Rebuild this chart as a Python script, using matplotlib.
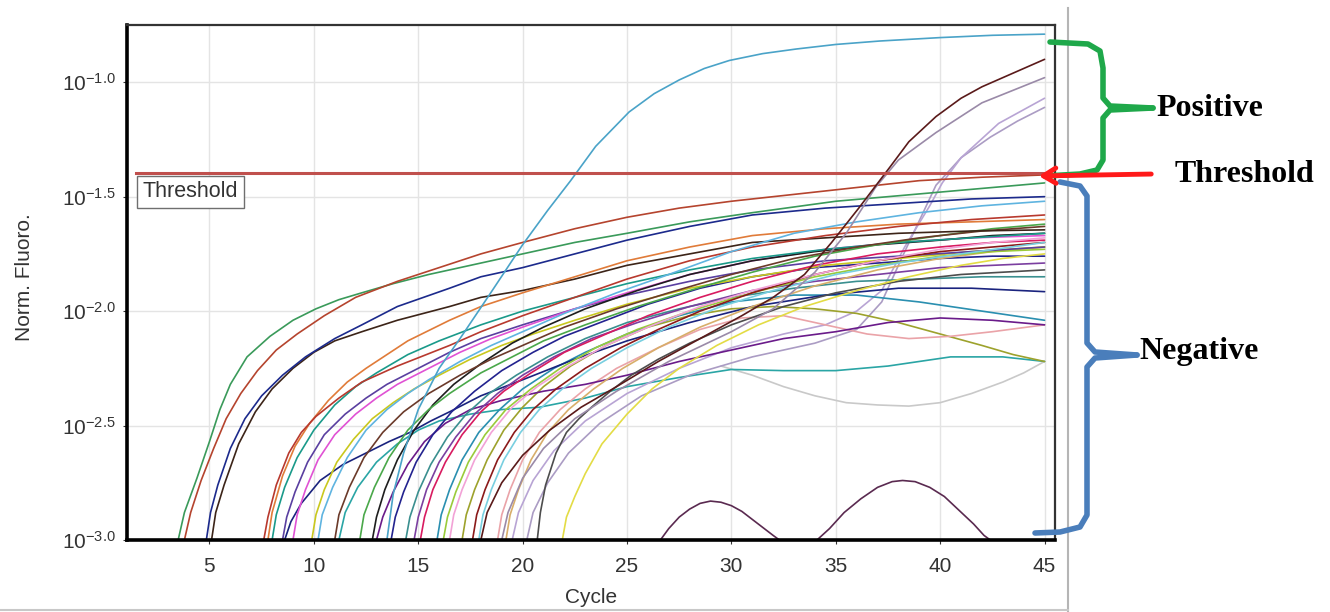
import numpy as np
import matplotlib
matplotlib.use("Agg")
import matplotlib.pyplot as plt
from matplotlib.ticker import FixedLocator, NullLocator

plt.rcParams['font.family'] = ['Liberation Sans', 'DejaVu Sans']
plt.rcParams['mathtext.fontset'] = 'custom'
plt.rcParams['mathtext.rm'] = 'Liberation Sans'
plt.rcParams['mathtext.it'] = 'Liberation Sans'

# ---- data: cycle vs log10(normalised fluorescence) ----
threshold_log = -1.397

red_a_x = [3.8, 4.1, 4.6, 5.2, 5.8, 6.5, 7.3, 8.2, 9.2, 10.5, 12, 14, 16, 18, 20, 22.5, 25, 27.5, 30, 33, 36, 39, 42, 45]
red_a_y = [-3.0, -2.88, -2.74, -2.60, -2.47, -2.36, -2.26, -2.17, -2.10, -2.02, -1.94, -1.87, -1.81, -1.75, -1.70, -1.64, -1.59, -1.55, -1.52, -1.49, -1.46, -1.43, -1.415, -1.405]
green_a_x = [3.5, 3.8, 4.4, 5, 5.5, 6, 6.8, 7.9, 9, 10.1, 11.2, 12.3, 13.8, 15.5, 17.5, 20, 22.5, 25, 28, 31, 35, 40, 45]
green_a_y = [-3.0, -2.88, -2.73, -2.57, -2.43, -2.32, -2.20, -2.11, -2.04, -1.99, -1.95, -1.92, -1.88, -1.84, -1.80, -1.75, -1.70, -1.66, -1.61, -1.57, -1.52, -1.48, -1.44]
navy_a_x = [4.85, 5.05, 5.4, 6, 6.7, 7.5, 8.5, 9.6, 11, 12.3, 14, 16.5, 18, 20, 22.5, 25, 28, 31, 34.5, 38, 41.5, 45]
navy_a_y = [-3.0, -2.88, -2.76, -2.60, -2.47, -2.37, -2.28, -2.20, -2.12, -2.06, -1.98, -1.90, -1.85, -1.81, -1.75, -1.69, -1.63, -1.58, -1.55, -1.53, -1.51, -1.50]
brown_a_x = [5.1, 5.3, 5.7, 6.4, 7.2, 8, 9, 10, 11, 12.3, 14, 16.5, 18, 20, 22.5, 25, 28, 31, 34.5, 38, 41.5, 45]
brown_a_y = [-3.0, -2.88, -2.76, -2.58, -2.44, -2.34, -2.25, -2.18, -2.13, -2.09, -2.04, -1.98, -1.94, -1.91, -1.86, -1.80, -1.75, -1.70, -1.68, -1.66, -1.65, -1.645]

crimson_b_x = [7.6, 7.8, 8.2, 8.8, 9.4, 10.1, 11.2, 12.3, 14, 16.5, 18, 20, 22.5, 25, 28, 31, 34.5, 38, 41.5, 45]
crimson_b_y = [-3.0, -2.90, -2.76, -2.62, -2.53, -2.46, -2.38, -2.31, -2.24, -2.15, -2.09, -2.02, -1.94, -1.86, -1.78, -1.72, -1.67, -1.63, -1.60, -1.58]
orange_b_x = [7.8, 8.0, 8.5, 9.1, 9.8, 10.7, 11.6, 12.5, 14.5, 16.5, 18, 20, 22.5, 25, 28, 31, 34.5, 38, 41.5, 45]
orange_b_y = [-3.0, -2.88, -2.72, -2.59, -2.49, -2.39, -2.31, -2.25, -2.13, -2.04, -1.98, -1.92, -1.85, -1.78, -1.72, -1.67, -1.64, -1.62, -1.61, -1.60]
teal_b_x = [8.0, 8.2, 8.6, 9.2, 10, 11, 12, 13, 14.5, 16, 18, 20, 22.5, 25, 28, 31, 34.5, 38, 41.5, 45]
teal_b_y = [-3.0, -2.89, -2.77, -2.64, -2.52, -2.41, -2.33, -2.27, -2.19, -2.13, -2.06, -2.00, -1.94, -1.88, -1.82, -1.77, -1.73, -1.70, -1.68, -1.66]
purple_b_x = [8.5, 8.7, 9.1, 9.7, 10.5, 11.5, 12.5, 13.5, 15, 16.5, 18, 20, 22.5, 25, 28, 31, 34.5, 38, 41.5, 45]
purple_b_y = [-3.0, -2.90, -2.79, -2.66, -2.54, -2.45, -2.38, -2.32, -2.25, -2.18, -2.12, -2.06, -1.99, -1.93, -1.87, -1.82, -1.78, -1.76, -1.74, -1.72]
navy_c_x = [8.6, 8.9, 9.4, 10.3, 11.4, 12.5, 13.6, 14.6, 15.6, 16.5, 18, 20, 22.5, 25, 28, 31, 34.5, 38, 41.5, 45]
navy_c_y = [-3.0, -2.92, -2.84, -2.74, -2.67, -2.62, -2.57, -2.53, -2.48, -2.44, -2.37, -2.30, -2.21, -2.13, -2.05, -1.98, -1.93, -1.90, -1.90, -1.915]
magenta_b_x = [9.0, 9.2, 9.6, 10.2, 11, 12, 13, 14, 15.5, 17, 18.5, 20, 22.5, 25, 28, 31, 34.5, 38, 41.5, 45]
magenta_b_y = [-3.0, -2.89, -2.78, -2.65, -2.54, -2.45, -2.38, -2.32, -2.25, -2.18, -2.12, -2.07, -1.99, -1.92, -1.84, -1.78, -1.73, -1.70, -1.68, -1.67]
yellow_b_x = [9.9, 10.1, 10.5, 11.1, 11.9, 12.8, 13.8, 14.8, 16, 17.5, 19, 20.5, 22.5, 25, 28, 31, 34.5, 38, 41.5, 45]
yellow_b_y = [-3.0, -2.89, -2.78, -2.66, -2.56, -2.47, -2.40, -2.34, -2.28, -2.21, -2.15, -2.10, -2.04, -1.97, -1.90, -1.85, -1.80, -1.77, -1.74, -1.72]
lightblue_b_x = [10.2, 10.4, 10.9, 11.6, 12.5, 13.5, 14.5, 15.5, 17, 18.5, 20, 22, 24.5, 27, 30, 33, 36, 39, 42, 45]
lightblue_b_y = [-3.0, -2.89, -2.77, -2.64, -2.52, -2.43, -2.36, -2.30, -2.22, -2.15, -2.09, -2.01, -1.92, -1.84, -1.74, -1.66, -1.61, -1.57, -1.54, -1.52]
darkbrown_b_x = [11.0, 11.2, 11.7, 12.4, 13.3, 14.3, 15.5, 17, 18.5, 20, 22, 24.5, 27, 30, 33, 36, 39, 42, 45]
darkbrown_b_y = [-3.0, -2.89, -2.77, -2.64, -2.53, -2.44, -2.36, -2.28, -2.21, -2.15, -2.07, -1.99, -1.92, -1.84, -1.77, -1.72, -1.68, -1.65, -1.63]
teal_low_x = [11.2, 11.5, 12.1, 13, 14, 15, 16, 17.5, 19, 20.8, 23, 25, 27.5, 30, 32.5, 35, 37.5, 40.5, 43, 45]
teal_low_y = [-3.0, -2.88, -2.77, -2.66, -2.58, -2.52, -2.48, -2.45, -2.43, -2.42, -2.38, -2.33, -2.29, -2.255, -2.26, -2.26, -2.24, -2.20, -2.20, -2.22]

green_c_x = [12.2, 12.4, 12.9, 13.6, 14.5, 15.5, 16.5, 18, 19.5, 21, 23, 25.5, 28, 31, 34, 37, 40, 42.5, 45]
green_c_y = [-3.0, -2.89, -2.77, -2.64, -2.52, -2.43, -2.36, -2.27, -2.20, -2.13, -2.06, -1.98, -1.91, -1.83, -1.76, -1.71, -1.67, -1.64, -1.62]
black_c_x = [12.8, 13.0, 13.4, 14.0, 14.8, 15.7, 16.7, 18, 19.5, 21, 23, 25.5, 28, 31, 34, 37, 40, 42.5, 45]
black_c_y = [-3.0, -2.90, -2.78, -2.65, -2.52, -2.41, -2.32, -2.23, -2.14, -2.07, -1.99, -1.91, -1.84, -1.78, -1.74, -1.71, -1.69, -1.67, -1.66]
purple_e_x = [13.0, 13.3, 13.8, 14.5, 15.3, 16.3, 17.5, 19, 21, 23, 25, 27.5, 30, 32.5, 35, 37.5, 40, 42.5, 45]
purple_e_y = [-3.0, -2.90, -2.79, -2.67, -2.57, -2.49, -2.43, -2.39, -2.35, -2.32, -2.28, -2.22, -2.17, -2.12, -2.09, -2.05, -2.03, -2.04, -2.06]
navy_c2_x = [13.7, 13.9, 14.3, 14.9, 15.7, 16.6, 17.7, 19, 20.5, 22, 24, 26, 28.5, 31, 34, 37, 40, 42.5, 45]
navy_c2_y = [-3.0, -2.90, -2.79, -2.66, -2.54, -2.44, -2.35, -2.26, -2.18, -2.11, -2.04, -1.97, -1.90, -1.85, -1.81, -1.79, -1.77, -1.76, -1.76]
tealgray_c_x = [14.4, 14.6, 15, 15.6, 16.4, 17.3, 18.4, 19.7, 21.2, 23, 25, 27.5, 30, 33, 36, 39, 42, 45]
tealgray_c_y = [-3.0, -2.90, -2.79, -2.67, -2.55, -2.45, -2.36, -2.28, -2.20, -2.12, -2.05, -1.99, -1.94, -1.90, -1.87, -1.86, -1.85, -1.85]
violet_c_x = [14.8, 15.0, 15.4, 16.0, 16.8, 17.7, 18.8, 20, 21.5, 23.3, 25.5, 28, 31, 34, 37, 40, 42.5, 45]
violet_c_y = [-3.0, -2.90, -2.78, -2.66, -2.55, -2.45, -2.36, -2.28, -2.20, -2.12, -2.05, -1.98, -1.91, -1.87, -1.84, -1.81, -1.80, -1.79]
crimson_c_x = [15.1, 15.3, 15.7, 16.3, 17.1, 18, 19.1, 20.4, 22, 24, 26, 28.5, 31, 34, 37, 40, 42.5, 45]
crimson_c_y = [-3.0, -2.90, -2.78, -2.66, -2.54, -2.44, -2.35, -2.27, -2.18, -2.10, -2.02, -1.94, -1.87, -1.80, -1.75, -1.72, -1.70, -1.69]
teal_c_x = [15.9, 16.1, 16.5, 17.1, 17.9, 18.9, 20, 21.5, 23, 25, 27.5, 30, 33, 36, 39, 42, 45]
teal_c_y = [-3.0, -2.89, -2.78, -2.65, -2.53, -2.43, -2.34, -2.25, -2.18, -2.10, -2.02, -1.96, -1.93, -1.93, -1.96, -2.00, -2.04]
lightgreen_d_x = [16.2, 16.4, 16.8, 17.4, 18.2, 19.2, 20.4, 21.8, 23.5, 25.5, 28, 31, 34, 37, 40, 42.5, 45]
lightgreen_d_y = [-3.0, -2.90, -2.79, -2.66, -2.54, -2.43, -2.34, -2.25, -2.16, -2.08, -2.00, -1.92, -1.85, -1.80, -1.76, -1.74, -1.73]
pink_c_x = [16.5, 16.7, 17.1, 17.7, 18.5, 19.5, 20.7, 22.2, 24, 26, 28.5, 31, 34, 37, 40, 42.5, 45]
pink_c_y = [-3.0, -2.89, -2.78, -2.65, -2.53, -2.42, -2.33, -2.24, -2.15, -2.07, -1.98, -1.91, -1.84, -1.78, -1.73, -1.70, -1.68]
olive_d_x = [17.1, 17.3, 17.7, 18.3, 19.1, 20, 21, 22.3, 24, 26, 28, 30, 32, 34, 36, 38, 40, 42, 43.5, 45]
olive_d_y = [-3.0, -2.89, -2.78, -2.65, -2.52, -2.42, -2.33, -2.24, -2.15, -2.07, -2.02, -1.99, -1.98, -1.99, -2.01, -2.05, -2.10, -2.15, -2.19, -2.22]
darkred_d_x = [17.6, 17.8, 18.2, 18.8, 19.6, 20.5, 21.6, 23, 24.7, 26.5, 28.5, 31, 34, 37, 40, 42.5, 45]
darkred_d_y = [-3.0, -2.89, -2.78, -2.65, -2.53, -2.43, -2.34, -2.25, -2.16, -2.08, -2.00, -1.92, -1.84, -1.78, -1.74, -1.72, -1.70]
cyan_d_x = [17.9, 18.1, 18.5, 19.1, 19.9, 20.8, 21.9, 23.3, 25, 27, 29.5, 32, 35, 38, 41, 45]
cyan_d_y = [-3.0, -2.89, -2.78, -2.65, -2.53, -2.43, -2.34, -2.25, -2.16, -2.07, -1.98, -1.91, -1.84, -1.79, -1.75, -1.70]
salmon_d_x = [18.8, 19.0, 19.4, 20, 20.8, 21.8, 23, 24.5, 26.5, 28.5, 30.5, 32.5, 34.5, 36.5, 38.5, 40.5, 42.5, 45]
salmon_d_y = [-3.0, -2.89, -2.78, -2.65, -2.53, -2.43, -2.34, -2.25, -2.16, -2.08, -2.03, -2.02, -2.06, -2.10, -2.12, -2.11, -2.09, -2.06]
tan_d_x = [19.2, 19.4, 19.8, 20.4, 21.2, 22.2, 23.4, 24.8, 26.5, 28.5, 31, 34, 37, 40, 42.5, 45]
tan_d_y = [-3.0, -2.89, -2.78, -2.65, -2.53, -2.43, -2.34, -2.25, -2.16, -2.07, -1.98, -1.89, -1.82, -1.77, -1.74, -1.72]
darkgray_d_x = [20.7, 20.85, 21.1, 21.6, 22.1, 22.7, 23.3, 24.2, 25.2, 26.5, 28, 30, 32.5, 35, 38, 41, 45]
darkgray_d_y = [-3.0, -2.88, -2.76, -2.62, -2.53, -2.47, -2.42, -2.35, -2.28, -2.21, -2.14, -2.06, -1.98, -1.92, -1.87, -1.84, -1.82]
yellow_d_x = [21.9, 22.1, 22.5, 23, 23.8, 25, 26.2, 27.5, 29.3, 31.3, 33.5, 36, 38.5, 41, 43, 45]
yellow_d_y = [-3.0, -2.90, -2.81, -2.71, -2.58, -2.45, -2.34, -2.25, -2.15, -2.06, -1.98, -1.91, -1.85, -1.80, -1.77, -1.75]
gray_low_x = [29.5, 31, 32.5, 34, 35.5, 37, 38.5, 40, 41.5, 43, 44, 45]
gray_low_y = [-2.24, -2.28, -2.33, -2.37, -2.40, -2.41, -2.415, -2.40, -2.36, -2.31, -2.27, -2.22]

# positives (cross the threshold)
cyan_pos_x = [13.5, 13.8, 14.3, 15, 16, 17, 18.4, 20, 21.2, 22.3, 23.5, 25.1, 26.3, 27.5, 28.7, 29.9, 31.5, 33.1, 35, 37.1, 40, 42.5, 45]
cyan_pos_y = [-3.0, -2.80, -2.62, -2.43, -2.25, -2.12, -1.93, -1.71, -1.56, -1.43, -1.28, -1.13, -1.05, -0.99, -0.94, -0.905, -0.875, -0.855, -0.835, -0.82, -0.805, -0.795, -0.79]
maroon_pos_x = [18, 18.3, 19, 20, 21.3, 22.8, 24.5, 26.5, 28.5, 30.5, 32, 33.5, 34.8, 36.1, 37.1, 37.6, 38.5, 39.8, 41, 42, 43.5, 45]
maroon_pos_y = [-3.0, -2.88, -2.75, -2.63, -2.52, -2.42, -2.33, -2.22, -2.12, -2.02, -1.94, -1.84, -1.70, -1.55, -1.43, -1.37, -1.26, -1.15, -1.07, -1.02, -0.96, -0.90]
gray_pos_x = [19, 19.3, 20, 21, 22.5, 24.5, 27, 30, 32, 34, 35.5, 36.9, 38, 39.8, 42, 45]
gray_pos_y = [-3.0, -2.88, -2.73, -2.60, -2.47, -2.35, -2.22, -2.09, -1.99, -1.83, -1.66, -1.46, -1.34, -1.22, -1.09, -0.98]
lavender_pos_x = [19.5, 19.8, 20.5, 21.5, 23, 25, 27.5, 30, 32.5, 34.5, 36, 37.2, 38.3, 39.5, 40.1, 41, 42.8, 45]
lavender_pos_y = [-3.0, -2.88, -2.74, -2.61, -2.48, -2.36, -2.25, -2.16, -2.10, -2.06, -2.00, -1.91, -1.72, -1.54, -1.44, -1.33, -1.18, -1.07]
lilac_pos_x = [20.2, 20.5, 21.2, 22.2, 23.7, 25.7, 28, 31, 34, 36, 37.2, 38.2, 39.8, 41, 42.4, 43.7, 45]
lilac_pos_y = [-3.0, -2.88, -2.75, -2.62, -2.49, -2.37, -2.28, -2.20, -2.14, -2.08, -1.96, -1.76, -1.45, -1.33, -1.24, -1.17, -1.11]

# low humps near the baseline
hump1_x = [26.6, 27, 27.5, 28, 28.5, 29, 29.5, 30, 30.5, 31, 31.5, 32, 32.3]
hump1_y = [-3.0, -2.95, -2.90, -2.865, -2.84, -2.83, -2.835, -2.85, -2.875, -2.91, -2.945, -2.98, -3.0]
hump2_x = [34.1, 34.7, 35.4, 36.2, 37, 37.7, 38.2, 38.8, 39.5, 40.2, 40.9, 41.6, 42.1, 42.4]
hump2_y = [-3.0, -2.95, -2.88, -2.82, -2.77, -2.745, -2.74, -2.745, -2.77, -2.81, -2.87, -2.93, -2.98, -3.0]

curves = [
    (gray_low_x, gray_low_y, '#c9c9c9'),
    (teal_low_x, teal_low_y, '#2aa5a5'),
    (lilac_pos_x, lilac_pos_y, '#ab9cc4'),
    (lavender_pos_x, lavender_pos_y, '#b8a4d4'),
    (olive_d_x, olive_d_y, '#9da22c'),
    (salmon_d_x, salmon_d_y, '#eaa3a8'),
    (purple_e_x, purple_e_y, '#6a1b8a'),
    (teal_c_x, teal_c_y, '#2a8fb0'),
    (navy_c_x, navy_c_y, '#1a237e'),
    (tealgray_c_x, tealgray_c_y, '#3a8f8f'),
    (darkgray_d_x, darkgray_d_y, '#4d4d4d'),
    (violet_c_x, violet_c_y, '#7b3fa0'),
    (navy_c2_x, navy_c2_y, '#23238f'),
    (yellow_d_x, yellow_d_y, '#e3dc45'),
    (tan_d_x, tan_d_y, '#d8ae6a'),
    (lightgreen_d_x, lightgreen_d_y, '#9acb3a'),
    (yellow_b_x, yellow_b_y, '#c9c81e'),
    (purple_b_x, purple_b_y, '#5a3fa0'),
    (darkred_d_x, darkred_d_y, '#8b1a1a'),
    (crimson_c_x, crimson_c_y, '#d81b60'),
    (cyan_d_x, cyan_d_y, '#78cfe0'),
    (pink_c_x, pink_c_y, '#f2a2d6'),
    (magenta_b_x, magenta_b_y, '#e052d4'),
    (black_c_x, black_c_y, '#1e1e1e'),
    (teal_b_x, teal_b_y, '#1a9a8a'),
    (green_c_x, green_c_y, '#4aa84a'),
    (darkbrown_b_x, darkbrown_b_y, '#6b3a2a'),
    (brown_a_x, brown_a_y, '#3c2418'),
    (orange_b_x, orange_b_y, '#e07b39'),
    (crimson_b_x, crimson_b_y, '#b8392e'),
    (lightblue_b_x, lightblue_b_y, '#5fb4e0'),
    (navy_a_x, navy_a_y, '#1c2a8c'),
    (green_a_x, green_a_y, '#3a9a5a'),
    (red_a_x, red_a_y, '#b5442e'),
    (gray_pos_x, gray_pos_y, '#9a8aa8'),
    (maroon_pos_x, maroon_pos_y, '#5a1a1a'),
    (cyan_pos_x, cyan_pos_y, '#4aa3c8'),
    (hump1_x, hump1_y, '#5a2a50'),
    (hump2_x, hump2_y, '#5a2a50'),
]

ytick_logs = [-3.0, -2.5, -2.0, -1.5, -1.0]
xticks = [5, 10, 15, 20, 25, 30, 35, 40, 45]

# ---- figure ----
fig = plt.figure(figsize=(13.3, 6.12), dpi=100)
ax = fig.add_axes([127 / 1330, 72 / 612, 928 / 1330, 515 / 612])

for xs, ys, col in curves:
    ax.plot(xs, 10 ** np.array(ys), color=col, lw=1.2, solid_capstyle='round', solid_joinstyle='round')

thr = 10 ** threshold_log
ax.plot([1.5, 45], [thr, thr], color='#c0504d', lw=2.2)
ax.text(1.8, 10 ** -1.478, 'Threshold', fontsize=15.5, color='#333333', va='center', ha='left',
        bbox=dict(boxstyle='square,pad=0.25', fc='white', ec='#6f6f6f', lw=1))

ax.set_yscale('log')
ax.set_xlim(1.05, 45.5)
ax.set_ylim(10 ** -3.0, 10 ** -0.75)
ax.yaxis.set_major_locator(FixedLocator([10 ** v for v in ytick_logs]))
ax.yaxis.set_minor_locator(NullLocator())
ax.set_yticklabels([r'$10^{%.1f}$' % v for v in ytick_logs])
ax.set_xticks(xticks)
ax.tick_params(axis='both', labelsize=15, colors='#333333', length=3, width=0.8)
ax.tick_params(axis='x', pad=9)
ax.tick_params(axis='y', pad=5)
ax.grid(True, color='#e4e4e4', lw=1)
ax.set_axisbelow(True)

for side in ['left', 'bottom']:
    ax.spines[side].set_linewidth(2.6)
    ax.spines[side].set_color('black')
for side in ['top', 'right']:
    ax.spines[side].set_linewidth(1.6)
    ax.spines[side].set_color('#333333')

ax.set_xlabel('Cycle', fontsize=15, color='#333333')
ax.set_ylabel('Norm. Fluoro.', fontsize=15, color='#333333')
ax.xaxis.set_label_coords(0.5, -0.093)
ax.yaxis.set_label_coords(-0.100, 0.51)

# ---- annotation overlay in pixel coordinates ----
ov = fig.add_axes([0, 0, 1, 1], facecolor='none')
ov.set_xlim(0, 1330)
ov.set_ylim(612, 0)
ov.axis('off')

ov.plot([1068, 1068], [8, 612], color='#b5b5b5', lw=1.5)
ov.plot([0, 1068], [610, 610], color='#c8c8c8', lw=1.5)

green = '#1fa84a'
ov.plot([1050, 1088, 1100, 1103, 1103, 1110, 1153], [42, 44, 51, 68, 98, 106, 108],
        color=green, lw=4, solid_joinstyle='round', solid_capstyle='round')
ov.plot([1153, 1110, 1103, 1103, 1097, 1080, 1045], [108, 110, 118, 160, 170, 174, 176],
        color=green, lw=4, solid_joinstyle='round', solid_capstyle='round')

blue = '#4a7ebb'
ov.plot([1060, 1080, 1087, 1087, 1095, 1137], [182, 186, 196, 343, 352, 355],
        color=blue, lw=4, solid_joinstyle='round', solid_capstyle='round')
ov.plot([1137, 1095, 1087, 1087, 1080, 1060, 1035], [355, 358, 367, 515, 527, 532, 533],
        color=blue, lw=4, solid_joinstyle='round', solid_capstyle='round')

ov.annotate('', xy=(1036, 176), xytext=(1154, 174),
            arrowprops=dict(arrowstyle='->,head_length=0.9,head_width=0.55', color='#ff1a1a', lw=3.5))

serif = ['Liberation Serif', 'DejaVu Serif']
ov.text(1156, 108, 'Positive', fontsize=23, fontweight='bold', family=serif, va='center', ha='left')
ov.text(1175, 175, 'Threshold', fontsize=23, fontweight='bold', family=serif, va='center', ha='left')
ov.text(1139, 352, 'Negative', fontsize=23, fontweight='bold', family=serif, va='center', ha='left')

fig.savefig('out.png', dpi=100)
